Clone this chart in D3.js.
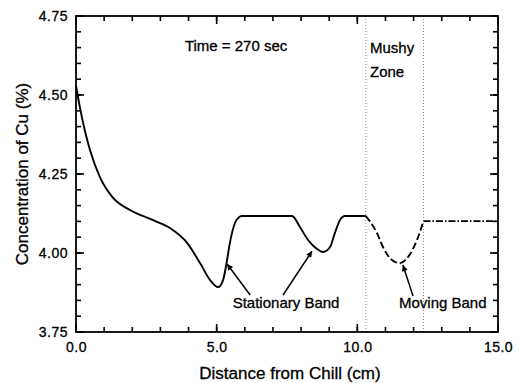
<!DOCTYPE html>
<html>
<head>
<meta charset="utf-8">
<script src="https://cdn.jsdelivr.net/npm/d3@7"></script>
<style>
  body { margin: 0; background: #fff; }
  svg text { font-family: Arial, "Liberation Sans", Helvetica, sans-serif; fill: #000; }
</style>
</head>
<body>
<svg id="chart"></svg>
<script>
// Cu concentration profile at t = 270 s (distance in cm, concentration in %)
const solidX = [0, 0.14, 0.32, 0.5, 0.85, 1.31, 1.92, 2.74, 3.34, 3.95, 4.41, 4.76, 5.05, 5.23, 5.37, 5.47, 5.65, 5.78, 5.9, 7.68, 7.96, 8.25, 8.56, 8.78, 9.03, 9.2, 9.38, 9.56, 10.3];
const solidY = [4.53, 4.46, 4.385, 4.325, 4.24, 4.175, 4.136, 4.104, 4.079, 4.032, 3.968, 3.915, 3.892, 3.915, 3.978, 4.032, 4.095, 4.112, 4.117, 4.117, 4.082, 4.041, 4.013, 4.003, 4.019, 4.063, 4.104, 4.117, 4.117];
// mushy zone part (dashed)
const mushyX = [10.3, 10.45, 10.7, 10.91, 11.23, 11.52, 11.8, 12.12, 12.35];
const mushyY = [4.117, 4.1, 4.063, 4.019, 3.978, 3.968, 3.987, 4.041, 4.101];
// liquid part (dash-dot)
const liquidX = [12.35, 15];
const liquidY = [4.101, 4.101];
// mushy zone boundaries
const zoneEdges = [10.3, 12.35];

const xTicks = [0, 5, 10, 15];
const xMinor = d3.range(1, 15, 1);
const yTicks = [3.75, 4.0, 4.25, 4.5, 4.75];
const yMinor = d3.range(3.8, 4.75, 0.05);

// arrows: label tail -> point on curve
const arrows = [
  { x1: 6.19, y1: 3.867, x2: 5.37, y2: 3.965 },
  { x1: 7.36, y1: 3.867, x2: 8.39, y2: 4.006 },
  { x1: 11.98, y1: 3.864, x2: 11.62, y2: 3.962 }
];

const width = 521, height = 383;
const margin = { top: 16, right: 23, bottom: 51, left: 76 };
const bottom = height - margin.bottom, right = width - margin.right;

const svg = d3.select("#chart")
    .attr("width", width)
    .attr("height", height);

const x = d3.scaleLinear().domain([0, 15]).range([margin.left, right]);
const y = d3.scaleLinear().domain([3.75, 4.75]).range([bottom, margin.top]);

svg.append("defs").append("marker")
    .attr("id", "head")
    .attr("viewBox", "0 0 10 10")
    .attr("refX", 10).attr("refY", 5)
    .attr("markerWidth", 9).attr("markerHeight", 6)
    .attr("markerUnits", "userSpaceOnUse")
    .attr("orient", "auto")
  .append("path")
    .attr("d", "M0,0 L10,5 L0,10 z")
    .attr("fill", "#000");

// dotted mushy zone lines
svg.append("g")
  .selectAll("line")
  .data(zoneEdges)
  .join("line")
    .attr("x1", d => x(d)).attr("x2", d => x(d))
    .attr("y1", y(4.75)).attr("y2", y(3.75))
    .attr("stroke", "#888")
    .attr("stroke-width", 1)
    .attr("stroke-dasharray", "1,2");

// tick labels from the axis generators
function labelsOnly(g) {
  g.select(".domain").remove();
  g.selectAll(".tick line").remove();
  g.selectAll("text")
      .attr("font-size", 14)
      .attr("fill", "#000")
      .attr("stroke", "#000")
      .attr("stroke-width", 0.3)
      .attr("letter-spacing", 0.5);
}

svg.append("g").attr("transform", `translate(0,${bottom})`)
    .call(d3.axisBottom(x).tickValues(xTicks).tickSize(0).tickPadding(10).tickFormat(d3.format(".1f")))
    .call(labelsOnly);
svg.append("g").attr("transform", `translate(${margin.left},0)`)
    .call(d3.axisLeft(y).tickValues(yTicks).tickSize(0).tickPadding(8).tickFormat(d3.format(".2f")))
    .call(labelsOnly);

// inward ticks on all four sides
const ticks = svg.append("g").attr("stroke", "#000").attr("stroke-width", 1.6);
const xt = xMinor.map(v => ({ v, len: 5 })).concat(xTicks.map(v => ({ v, len: 8 })));
const yt = yMinor.map(v => ({ v, len: 5 })).concat(yTicks.map(v => ({ v, len: 8 })));

ticks.selectAll(".xb").data(xt).join("line").attr("class", "xb")
    .attr("x1", d => x(d.v)).attr("x2", d => x(d.v))
    .attr("y1", bottom).attr("y2", d => bottom - d.len);
ticks.selectAll(".xt").data(xt).join("line").attr("class", "xt")
    .attr("x1", d => x(d.v)).attr("x2", d => x(d.v))
    .attr("y1", margin.top).attr("y2", d => margin.top + d.len);
ticks.selectAll(".yl").data(yt).join("line").attr("class", "yl")
    .attr("y1", d => y(d.v)).attr("y2", d => y(d.v))
    .attr("x1", margin.left).attr("x2", d => margin.left + d.len);
ticks.selectAll(".yr").data(yt).join("line").attr("class", "yr")
    .attr("y1", d => y(d.v)).attr("y2", d => y(d.v))
    .attr("x1", right).attr("x2", d => right - d.len);

// frame
svg.append("rect")
    .attr("x", margin.left).attr("y", margin.top)
    .attr("width", right - margin.left).attr("height", bottom - margin.top)
    .attr("fill", "none")
    .attr("stroke", "#000")
    .attr("stroke-width", 1.8);

// profile
const line = d3.line()
    .x(d => x(d[0]))
    .y(d => y(d[1]))
    .curve(d3.curveMonotoneX);

const segments = [
  { xs: solidX, ys: solidY, dash: null },
  { xs: mushyX, ys: mushyY, dash: "7,3" },
  { xs: liquidX, ys: liquidY, dash: "7,2,1.5,2" }
];

svg.append("g")
  .selectAll("path")
  .data(segments)
  .join("path")
    .attr("d", s => line(d3.zip(s.xs, s.ys)))
    .attr("fill", "none")
    .attr("stroke", "#000")
    .attr("stroke-width", 1.9)
    .attr("stroke-dasharray", s => s.dash);

svg.append("g")
  .selectAll("line")
  .data(arrows)
  .join("line")
    .attr("x1", d => x(d.x1)).attr("y1", d => y(d.y1))
    .attr("x2", d => x(d.x2)).attr("y2", d => y(d.y2))
    .attr("stroke", "#000")
    .attr("stroke-width", 1.5)
    .attr("marker-end", "url(#head)");

// annotations
const notes = [
  { text: "Time = 270 sec", x: 3.87, y: 4.656 },
  { text: "Mushy", x: 10.45, y: 4.648 },
  { text: "Zone", x: 10.45, y: 4.575 },
  { text: "Stationary Band", x: 5.57, y: 3.841 },
  { text: "Moving Band", x: 11.48, y: 3.841 }
];

svg.append("g")
  .selectAll("text")
  .data(notes)
  .join("text")
    .attr("x", d => x(d.x))
    .attr("y", d => y(d.y))
    .attr("dy", "0.35em")
    .attr("font-size", 15)
    .attr("stroke", "#000")
    .attr("stroke-width", 0.3)
    .text(d => d.text);

// axis titles
svg.append("text")
    .attr("x", 290)
    .attr("y", 373)
    .attr("dy", "0.35em")
    .attr("text-anchor", "middle")
    .attr("font-size", 17)
    .attr("stroke", "#000")
    .attr("stroke-width", 0.3)
    .text("Distance from Chill  (cm)");

svg.append("text")
    .attr("transform", `translate(22,${(margin.top + bottom) / 2}) rotate(-90)`)
    .attr("dy", "0.35em")
    .attr("text-anchor", "middle")
    .attr("font-size", 17)
    .attr("stroke", "#000")
    .attr("stroke-width", 0.3)
    .text("Concentration of Cu  (%)");
</script>
</body>
</html>
